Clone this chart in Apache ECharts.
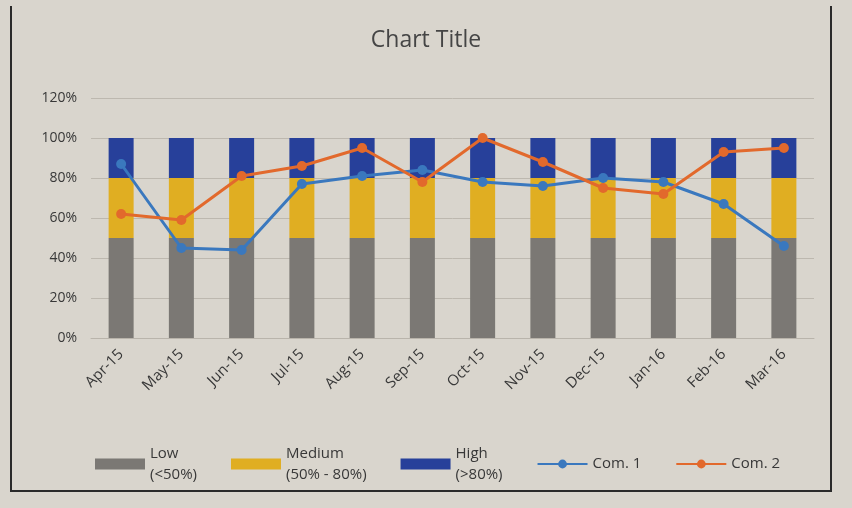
<!DOCTYPE html>
<html>
<head>
<meta charset="utf-8">
<script src="https://cdn.jsdelivr.net/npm/echarts@6/dist/echarts.min.js"></script>
<style>
  html, body { margin: 0; padding: 0; background: #d9d5cd; }
  #frame {
    position: absolute; left: 10px; top: 6px; width: 818px; height: 484px;
    border-left: 2px solid #2a2a2a; border-right: 2px solid #2a2a2a; border-bottom: 2px solid #2a2a2a;
  }
  #chart { position: absolute; left: 0; top: 0; width: 852px; height: 508px; }
</style>
</head>
<body>
<div id="frame"></div>
<div id="chart"></div>
<script>
const categories = ["Apr-15", "May-15", "Jun-15", "Jul-15", "Aug-15", "Sep-15",
  "Oct-15", "Nov-15", "Dec-15", "Jan-16", "Feb-16", "Mar-16"];
const lowValues = [50, 50, 50, 50, 50, 50, 50, 50, 50, 50, 50, 50];
const mediumValues = [30, 30, 30, 30, 30, 30, 30, 30, 30, 30, 30, 30];
const highValues = [20, 20, 20, 20, 20, 20, 20, 20, 20, 20, 20, 20];
const com1Values = [87, 45, 44, 77, 81, 84, 78, 76, 80, 78, 67, 46];
const com2Values = [62, 59, 81, 86, 95, 78, 100, 88, 75, 72, 93, 95];
const legendLabels = {
  "Low": "Low\n(<50%)",
  "Medium": "Medium\n(50% - 80%)",
  "High": "High\n(>80%)",
  "Com. 1": "Com. 1",
  "Com. 2": "Com. 2"
};

const chart = echarts.init(document.getElementById("chart"));
const font = "'Open Sans', 'Liberation Sans', sans-serif";

const barSeries = (name, data, color) => ({
  name: name,
  type: "bar",
  stack: "total",
  data: data,
  barWidth: 25,
  itemStyle: { color: color },
  emphasis: { disabled: true }
});

const lineSeries = (name, data, color) => ({
  name: name,
  type: "line",
  data: data,
  symbol: "circle",
  symbolSize: 10,
  lineStyle: { color: color, width: 3 },
  itemStyle: { color: color },
  emphasis: { disabled: true }
});

chart.setOption({
  backgroundColor: "transparent",
  textStyle: { fontFamily: font },
  title: {
    text: "Chart Title",
    left: "center",
    top: 24,
    textStyle: { color: "#454545", fontSize: 23, fontWeight: "normal", fontFamily: font }
  },
  grid: { left: 91, right: 38, top: 98, bottom: 170 },
  xAxis: {
    type: "category",
    data: categories,
    axisTick: { show: false },
    axisLine: { lineStyle: { color: "#b9b4ab" } },
    axisLabel: { color: "#383838", fontSize: 15, rotate: 45, margin: 14, fontFamily: font }
  },
  yAxis: {
    type: "value",
    min: 0,
    max: 120,
    interval: 20,
    axisLine: { show: false },
    axisTick: { show: false },
    splitLine: { lineStyle: { color: "#bdb8af", width: 1 } },
    axisLabel: { color: "#383838", fontSize: 14, formatter: "{value}%", margin: 14, fontFamily: font }
  },
  legend: {
    bottom: 18,
    left: 90,
    itemGap: 34,
    itemWidth: 50,
    itemHeight: 11,
    data: [
      { name: "Low", icon: "rect" },
      { name: "Medium", icon: "rect" },
      { name: "High", icon: "rect" },
      { name: "Com. 1" },
      { name: "Com. 2" }
    ],
    formatter: name => legendLabels[name],
    textStyle: { color: "#383838", fontSize: 15, lineHeight: 21, fontFamily: font }
  },
  series: [
    barSeries("Low", lowValues, "#7b7874"),
    barSeries("Medium", mediumValues, "#e0ae22"),
    barSeries("High", highValues, "#27409a"),
    lineSeries("Com. 1", com1Values, "#3a78be"),
    lineSeries("Com. 2", com2Values, "#e2692c")
  ]
});
</script>
</body>
</html>
